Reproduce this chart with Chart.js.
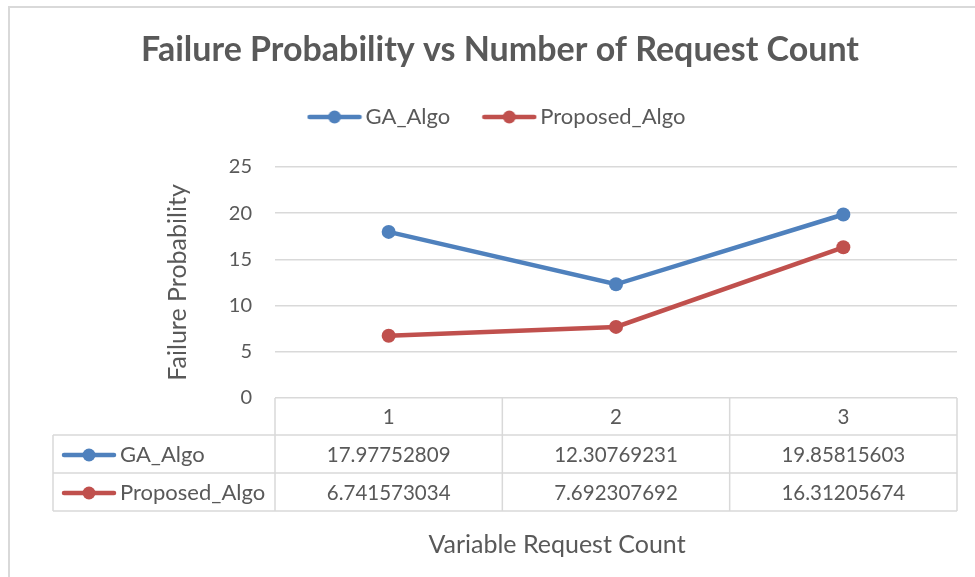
<!DOCTYPE html>
<html>
<head>
<meta charset="utf-8">
<script src="https://cdn.jsdelivr.net/npm/chart.js@4"></script>
<style>
  html, body { margin: 0; padding: 0; background: #fff; }
  #wrap { width: 975px; height: 577px; }
</style>
</head>
<body>
<div id="wrap"><canvas id="chart" width="975" height="577"></canvas></div>
<script>
// chart data
const categories = ['1', '2', '3'];
const gaAlgo = [17.97752809, 12.30769231, 19.85815603];
const proposedAlgo = [6.741573034, 7.692307692, 16.31205674];
const yTicks = [0, 5, 10, 15, 20, 25];

const seriesNames = ['GA_Algo', 'Proposed_Algo'];
const seriesColors = ['#4F81BD', '#C0504D'];
const textColor = '#595959';
const gridColor = '#D9D9D9';
const fontFamily = 'Lato, "Open Sans", sans-serif';

// small line+marker icon like Excel's legend key
function makeIcon(color) {
  const c = document.createElement('canvas');
  c.width = 56; c.height = 16;
  const g = c.getContext('2d');
  g.strokeStyle = color;
  g.lineWidth = 4.5;
  g.lineCap = 'round';
  g.beginPath(); g.moveTo(3, 8); g.lineTo(53, 8); g.stroke();
  g.fillStyle = color;
  g.beginPath(); g.arc(28, 8, 6.5, 0, Math.PI * 2); g.fill();
  return c;
}
const icons = seriesColors.map(makeIcon);

// leave room between legend and plot like Excel does
const legendGap = {
  id: 'legendGap',
  afterInit(chart) {
    const legend = chart.legend;
    const fit = legend.fit;
    legend.fit = function () { fit.call(this); this.height += 29; };
  }
};

// draws frame, data table and x axis title
const tablePlugin = {
  id: 'dataTable',
  afterDraw(chart) {
    const ctx = chart.ctx;
    const area = chart.chartArea;
    const x = chart.scales.x;
    const rowTop = area.bottom;
    const rowH = [37, 38, 38];
    const labelLeft = 53;

    ctx.save();
    // outer frame
    ctx.strokeStyle = gridColor;
    ctx.lineWidth = 2;
    ctx.beginPath();
    ctx.moveTo(9, 577); ctx.lineTo(9, 7); ctx.lineTo(975, 7);
    ctx.stroke();

    // column edges from the category scale
    const centers = categories.map((_, i) => x.getPixelForValue(i));
    const edges = [area.left];
    for (let i = 0; i < centers.length - 1; i++) edges.push((centers[i] + centers[i + 1]) / 2);
    edges.push(area.right);

    const y1 = rowTop + rowH[0];
    const y2 = y1 + rowH[1];
    const y3 = y2 + rowH[2];

    ctx.lineWidth = 1.5;
    ctx.beginPath();
    edges.forEach(e => { ctx.moveTo(e, rowTop); ctx.lineTo(e, y3); });
    ctx.moveTo(labelLeft, y1); ctx.lineTo(labelLeft, y3);
    [y1, y2, y3].forEach(yy => { ctx.moveTo(labelLeft, yy); ctx.lineTo(area.right, yy); });
    ctx.stroke();

    ctx.fillStyle = textColor;
    ctx.font = '20.5px ' + fontFamily;
    ctx.textAlign = 'center';
    ctx.textBaseline = 'middle';
    categories.forEach((c, i) => ctx.fillText(c, centers[i], rowTop + rowH[0] / 2 + 1));

    const rows = [gaAlgo, proposedAlgo];
    const rowMid = [y1 + rowH[1] / 2 + 1, y2 + rowH[2] / 2 + 1];
    rows.forEach((vals, r) => {
      ctx.font = '20.5px ' + fontFamily;
      ctx.textAlign = 'center';
      vals.forEach((v, i) => ctx.fillText(String(v), centers[i], rowMid[r]));
      ctx.drawImage(icons[r], 61, rowMid[r] - 8);
      ctx.textAlign = 'left';
      ctx.font = '22px ' + fontFamily;
      ctx.fillText(seriesNames[r], 120, rowMid[r]);
    });

    // x axis title
    ctx.font = '25px ' + fontFamily;
    ctx.textAlign = 'center';
    ctx.fillText('Variable Request Count', 557, 545);
    ctx.restore();
  }
};

new Chart(document.getElementById('chart'), {
  type: 'line',
  data: {
    labels: categories,
    datasets: [
      { label: seriesNames[0], data: gaAlgo, borderColor: seriesColors[0], backgroundColor: seriesColors[0] },
      { label: seriesNames[1], data: proposedAlgo, borderColor: seriesColors[1], backgroundColor: seriesColors[1] }
    ]
  },
  options: {
    responsive: false,
    animation: false,
    layout: { padding: { left: 43, right: 18, top: 8, bottom: 179 } },
    elements: {
      line: { borderWidth: 4.5, tension: 0 },
      point: { radius: 7, hoverRadius: 7, borderWidth: 0 }
    },
    plugins: {
      title: {
        display: true,
        text: 'Failure Probability vs Number of Request Count',
        color: textColor,
        font: { family: fontFamily, size: 34, weight: 'bold', lineHeight: 1 },
        padding: { top: 25, bottom: 0 }
      },
      legend: {
        labels: {
          color: textColor,
          font: { family: fontFamily, size: 22 },
          usePointStyle: true,
          pointStyleWidth: 40,
          padding: 39,
          generateLabels: chart => chart.data.datasets.map((d, i) => ({
            text: d.label,
            pointStyle: icons[i],
            fillStyle: seriesColors[i],
            strokeStyle: seriesColors[i],
            fontColor: textColor,
            lineWidth: 0,
            datasetIndex: i
          }))
        }
      },
      tooltip: { enabled: false }
    },
    scales: {
      x: { display: false, offset: true },
      y: {
        min: 0,
        max: 25,
        afterBuildTicks: s => { s.ticks = yTicks.map(v => ({ value: v })); },
        afterFit: s => { s.width = 232; },
        grid: { color: gridColor, lineWidth: 1.5, drawTicks: false },
        border: { display: false },
        ticks: { color: textColor, padding: 23, font: { family: fontFamily, size: 20 } },
        title: {
          display: true,
          text: 'Failure Probability',
          color: textColor,
          font: { family: fontFamily, size: 25 },
          padding: { top: 120, bottom: 4 }
        }
      }
    }
  },
  plugins: [legendGap, tablePlugin]
});
</script>
</body>
</html>
